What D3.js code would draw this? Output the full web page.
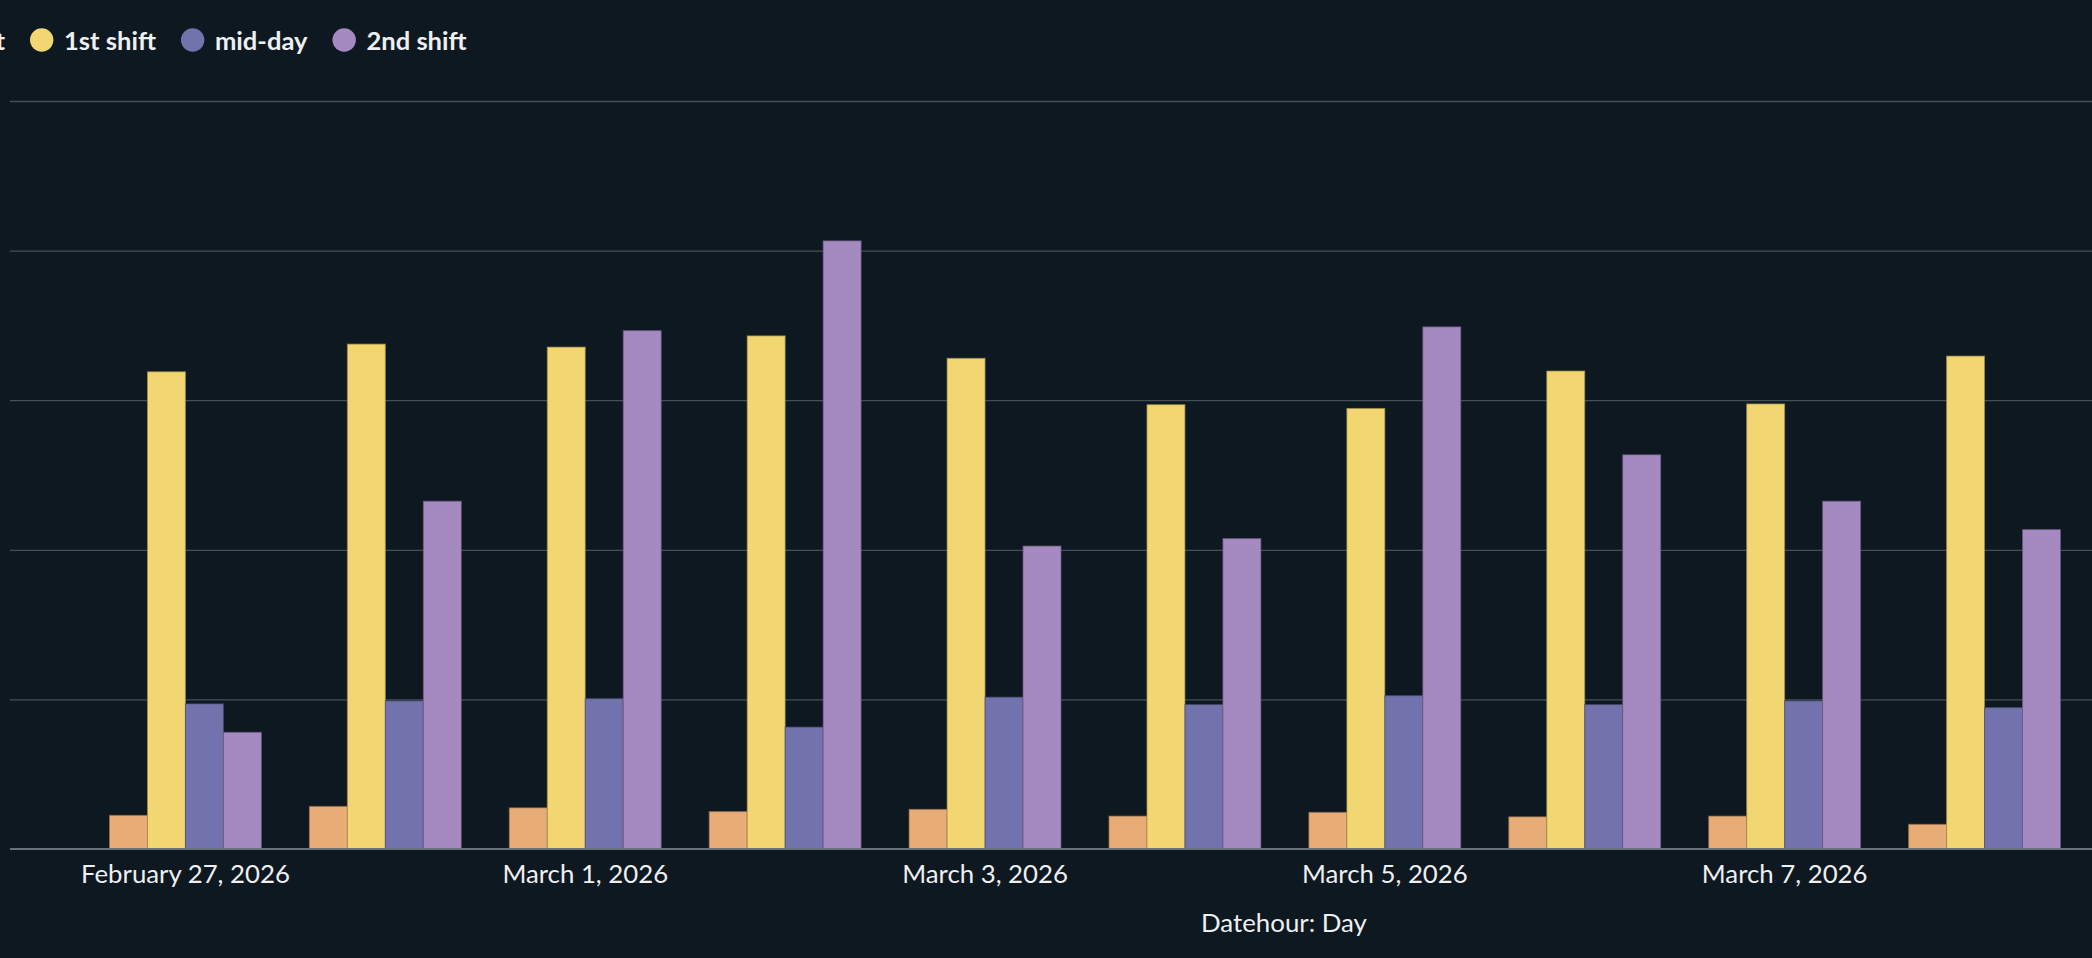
<!DOCTYPE html>
<html>
<head>
<meta charset="utf-8">
<script src="https://cdn.jsdelivr.net/npm/d3@7"></script>
<style>
  html, body { margin: 0; padding: 0; background: #0D1821; overflow: hidden; }
  svg { display: block; font-family: Lato, "Noto Sans", sans-serif; }
</style>
</head>
<body>
<svg id="chart" width="2092" height="958"></svg>
<script>
// ---- data (y units are relative, gridlines every 200) ----
const categories = [
  "February 27, 2026", "February 28, 2026", "March 1, 2026", "March 2, 2026",
  "March 3, 2026", "March 4, 2026", "March 5, 2026", "March 6, 2026",
  "March 7, 2026", "March 8, 2026"
];
const tickLabels = ["February 27, 2026", "March 1, 2026", "March 3, 2026", "March 5, 2026", "March 7, 2026"];
const seriesNames = ["3rd shift", "1st shift", "mid-day", "2nd shift"];
const seriesColors = ["#E8AC77", "#F1D671", "#7273AC", "#A58AC2"];
const thirdShift = [45, 57, 55, 50, 53, 44, 49, 43, 44, 33];
const firstShift = [638, 675, 671, 686, 656, 594, 589, 639, 595, 659];
const midDay     = [194, 198, 201, 163, 203, 193, 205, 193, 198, 189];
const secondShift= [156, 465, 693, 813, 405, 415, 698, 527, 465, 427];
const yTicks = [0, 200, 400, 600, 800, 1000];
const xTitle = "Datehour: Day";

const seriesValues = [thirdShift, firstShift, midDay, secondShift];
const rows = categories.map((c, i) => ({
  cat: c,
  values: seriesNames.map((s, j) => ({ series: s, value: seriesValues[j][i], color: seriesColors[j] }))
}));

const svg = d3.select("#chart");
const W = 2092, H = 958;

// measure helper to fit font sizes
function fitSize(text, weight, target) {
  const t = svg.append("text").attr("font-size", 100).attr("font-weight", weight).text(text);
  const w = t.node().getComputedTextLength();
  t.remove();
  return 100 * target / w;
}

const gridLeft = 10, gridRight = W;
const y = d3.scaleLinear().domain([0, 1000]).range([849, 101]);
const x0 = d3.scaleBand().domain(categories).range([85.5, 2084.5]).paddingInner(0.24).paddingOuter(0.12);
const x1 = d3.scaleBand().domain(seriesNames).range([0, x0.bandwidth()]);

// gridlines
const gy = svg.append("g").attr("transform", `translate(${gridLeft},0)`)
  .call(d3.axisLeft(y).tickValues(yTicks.filter(v => v > 0)).tickSize(-(gridRight - gridLeft)).tickFormat(""));
gy.select(".domain").remove();
gy.selectAll(".tick line").attr("stroke", "#444F57").attr("stroke-width", 1.3);

// bars
const groups = svg.append("g").selectAll("g").data(rows).join("g")
  .attr("transform", d => `translate(${x0(d.cat)},0)`);
groups.selectAll("rect").data(d => d.values).join("rect")
  .attr("x", d => x1(d.series))
  .attr("y", d => y(d.value))
  .attr("width", x1.bandwidth())
  .attr("height", d => y(0) - y(d.value))
  .attr("fill", d => d.color)
  .attr("stroke", d => d3.color(d.color).darker(1.2))
  .attr("stroke-opacity", 0.7)
  .attr("stroke-width", 1);

// baseline
svg.append("line")
  .attr("x1", gridLeft).attr("x2", gridRight)
  .attr("y1", y(0)).attr("y2", y(0))
  .attr("stroke", "#6A7278").attr("stroke-width", 2);

// x axis labels
const tickFs = fitSize("February 27, 2026", 400, 209);
const gx = svg.append("g").attr("transform", `translate(0,${y(0)})`)
  .call(d3.axisBottom(x0).tickValues(tickLabels).tickSize(0).tickPadding(16));
gx.select(".domain").remove();
gx.selectAll("text").attr("font-size", tickFs).attr("fill", "#EDEFF0")
  .attr("font-family", "Lato, 'Noto Sans', sans-serif");

// axis title (centred on the full plot area, whose left part lies outside the frame)
const titleFs = fitSize(xTitle, 400, 166);
svg.append("text")
  .attr("x", 1284)
  .attr("y", 932)
  .attr("text-anchor", "middle")
  .attr("font-size", titleFs)
  .attr("fill", "#EDEFF0")
  .text(xTitle);

// legend
const legFs = fitSize("1st shift", 700, 92);
const r = 11.7, textOff = 22.3, gapAfter = 36.7;
const leg = svg.append("g");
let cx = 41.7;
const anchorIdx = 1;
for (let i = anchorIdx; i < seriesNames.length; i++) {
  leg.append("circle").attr("cx", cx).attr("cy", 40).attr("r", r).attr("fill", seriesColors[i]);
  const t = leg.append("text").attr("x", cx + textOff).attr("y", 50)
    .attr("font-size", legFs).attr("font-weight", 700).attr("fill", "#EDEFF0").text(seriesNames[i]);
  cx = cx + textOff + t.node().getComputedTextLength() + gapAfter;
}
// item to the left of the anchor (cut off by the frame, as in the reference)
let endX = 41.7 - gapAfter;
for (let i = anchorIdx - 1; i >= 0; i--) {
  const t = leg.append("text").attr("x", endX).attr("y", 50).attr("text-anchor", "end")
    .attr("font-size", legFs).attr("font-weight", 700).attr("fill", "#EDEFF0").text(seriesNames[i]);
  const w = t.node().getComputedTextLength();
  const ccx = endX - w - textOff;
  leg.append("circle").attr("cx", ccx).attr("cy", 40).attr("r", r).attr("fill", seriesColors[i]);
  endX = ccx - gapAfter;
}
</script>
</body>
</html>
